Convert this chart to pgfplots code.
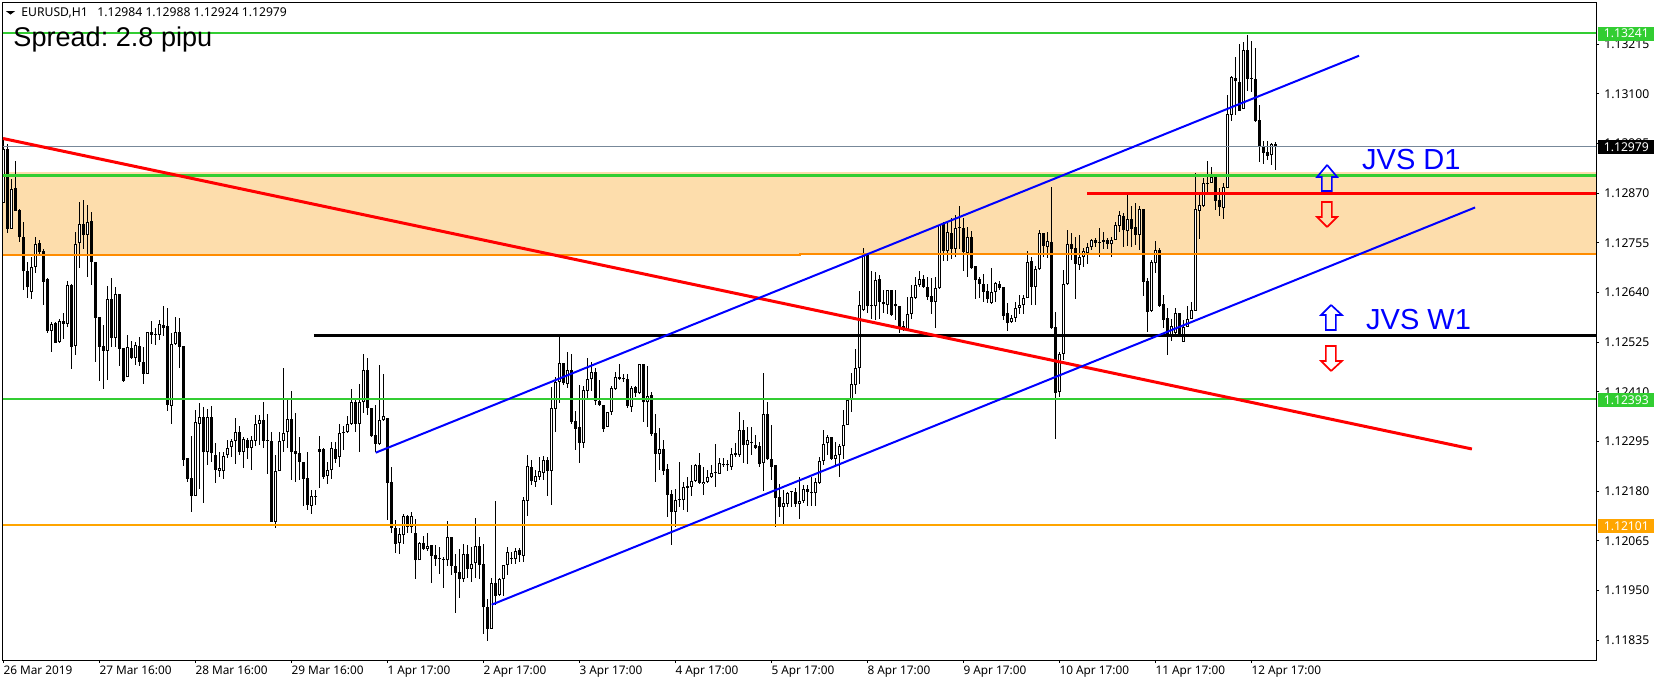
\documentclass[border=0pt]{standalone}
\usepackage{fontspec}
\usepackage{pgfplots}
\usepackage{pgfplotstable}
\pgfplotsset{compat=1.18}
\setmainfont{Noto Sans}
\newfontfamily\arialfont{Liberation Sans}
\definecolor{lime}{RGB}{50,205,50}
\definecolor{zone}{RGB}{253,221,172}
\definecolor{zoneline}{RGB}{255,140,0}
\definecolor{sup}{RGB}{255,165,0}
\definecolor{bidline}{RGB}{119,136,153}

% EURUSD H1: candle number, open, high, low, close
\pgfplotstableread{
i o h l c
0 1.12848 1.12997 1.12848 1.12972
1 1.12972 1.12984 1.12777 1.12788
2 1.12788 1.12902 1.12788 1.12879
3 1.12882 1.12944 1.12830 1.12830
4 1.12831 1.12833 1.12758 1.12768
5 1.12768 1.12804 1.12646 1.12689
6 1.12689 1.12712 1.12628 1.12652
7 1.12642 1.12722 1.12626 1.12700
8 1.12700 1.12770 1.12686 1.12752
9 1.12754 1.12763 1.12729 1.12734
10 1.12737 1.12740 1.12611 1.12665
11 1.12672 1.12673 1.12546 1.12552
12 1.12552 1.12573 1.12503 1.12567
13 1.12569 1.12571 1.12524 1.12524
14 1.12526 1.12578 1.12524 1.12574
15 1.12574 1.12594 1.12533 1.12568
16 1.12568 1.12667 1.12561 1.12657
17 1.12658 1.12659 1.12464 1.12515
18 1.12517 1.12781 1.12496 1.12752
19 1.12754 1.12849 1.12696 1.12798
20 1.12800 1.12855 1.12741 1.12773
21 1.12774 1.12842 1.12677 1.12803
22 1.12805 1.12826 1.12658 1.12712
23 1.12710 1.12710 1.12480 1.12582
24 1.12583 1.12583 1.12436 1.12515
25 1.12516 1.12565 1.12418 1.12506
26 1.12506 1.12655 1.12438 1.12625
27 1.12625 1.12673 1.12515 1.12536
28 1.12536 1.12652 1.12515 1.12636
29 1.12638 1.12638 1.12469 1.12510
30 1.12511 1.12511 1.12432 1.12436
31 1.12444 1.12542 1.12444 1.12513
32 1.12511 1.12528 1.12487 1.12489
33 1.12489 1.12525 1.12472 1.12518
34 1.12516 1.12538 1.12469 1.12480
35 1.12479 1.12515 1.12428 1.12452
36 1.12452 1.12548 1.12452 1.12548
37 1.12548 1.12574 1.12521 1.12543
38 1.12544 1.12557 1.12519 1.12543
39 1.12543 1.12577 1.12530 1.12567
40 1.12564 1.12608 1.12540 1.12559
41 1.12562 1.12604 1.12367 1.12380
42 1.12378 1.12546 1.12336 1.12520
43 1.12520 1.12584 1.12519 1.12548
44 1.12548 1.12581 1.12466 1.12515
45 1.12516 1.12516 1.12239 1.12253
46 1.12256 1.12256 1.12202 1.12209
47 1.12210 1.12307 1.12131 1.12168
48 1.12170 1.12368 1.12170 1.12340
49 1.12337 1.12384 1.12185 1.12351
50 1.12351 1.12376 1.12152 1.12270
51 1.12270 1.12370 1.12242 1.12351
52 1.12351 1.12378 1.12249 1.12268
53 1.12263 1.12293 1.12200 1.12229
54 1.12228 1.12270 1.12212 1.12235
55 1.12226 1.12270 1.12209 1.12262
56 1.12263 1.12299 1.12256 1.12280
57 1.12282 1.12300 1.12259 1.12296
58 1.12296 1.12349 1.12243 1.12318
59 1.12318 1.12332 1.12264 1.12272
60 1.12272 1.12305 1.12235 1.12300
61 1.12299 1.12303 1.12254 1.12281
62 1.12281 1.12308 1.12229 1.12299
63 1.12297 1.12357 1.12285 1.12337
64 1.12337 1.12357 1.12287 1.12344
65 1.12345 1.12386 1.12281 1.12297
66 1.12298 1.12359 1.12219 1.12297
67 1.12297 1.12317 1.12110 1.12110
68 1.12110 1.12264 1.12096 1.12228
69 1.12226 1.12317 1.12226 1.12296
70 1.12296 1.12465 1.12272 1.12314
71 1.12317 1.12391 1.12280 1.12347
72 1.12347 1.12413 1.12206 1.12272
73 1.12273 1.12361 1.12202 1.12266
74 1.12269 1.12305 1.12206 1.12249
75 1.12249 1.12249 1.12147 1.12209
76 1.12210 1.12270 1.12137 1.12148
77 1.12147 1.12183 1.12127 1.12168
78 1.12168 1.12183 1.12148 1.12168
79 1.12272 1.12307 1.12187 1.12277
80 1.12277 1.12280 1.12209 1.12214
81 1.12216 1.12248 1.12197 1.12229
82 1.12229 1.12295 1.12208 1.12280
83 1.12278 1.12295 1.12245 1.12255
84 1.12259 1.12336 1.12237 1.12314
85 1.12317 1.12332 1.12276 1.12314
86 1.12318 1.12354 1.12314 1.12337
87 1.12337 1.12417 1.12333 1.12386
88 1.12386 1.12391 1.12318 1.12337
89 1.12337 1.12428 1.12272 1.12386
90 1.12386 1.12498 1.12361 1.12461
91 1.12461 1.12488 1.12357 1.12374
92 1.12372 1.12372 1.12307 1.12308
93 1.12310 1.12381 1.12270 1.12290
94 1.12289 1.12473 1.12287 1.12345
95 1.12344 1.12452 1.12343 1.12354
96 1.12349 1.12349 1.12114 1.12200
97 1.12201 1.12236 1.12083 1.12094
98 1.12094 1.12114 1.12038 1.12059
99 1.12061 1.12094 1.12035 1.12081
100 1.12078 1.12128 1.12057 1.12122
101 1.12122 1.12125 1.12083 1.12098
102 1.12098 1.12132 1.12083 1.12122
103 1.12083 1.12115 1.11977 1.12020
104 1.12020 1.12063 1.12020 1.12060
105 1.12060 1.12077 1.12043 1.12047
106 1.12047 1.12083 1.12042 1.12054
107 1.12055 1.12055 1.11968 1.12031
108 1.12032 1.12055 1.12007 1.12024
109 1.12026 1.12051 1.11989 1.12023
110 1.12023 1.12029 1.11957 1.12021
111 1.12020 1.12111 1.12008 1.12074
112 1.12074 1.12075 1.11986 1.12008
113 1.12007 1.12034 1.11899 1.11992
114 1.11993 1.12046 1.11932 1.11978
115 1.11978 1.12058 1.11969 1.12036
116 1.12034 1.12056 1.11980 1.12000
117 1.12001 1.12052 1.11969 1.12011
118 1.12013 1.12118 1.11980 1.12053
119 1.12053 1.12075 1.11977 1.12010
120 1.12011 1.12057 1.11850 1.11911
121 1.11911 1.11931 1.11834 1.11862
122 1.11862 1.11979 1.11862 1.11967
123 1.11967 1.12158 1.11917 1.11938
124 1.11940 1.11979 1.11938 1.11976
125 1.11976 1.12010 1.11938 1.12009
126 1.12010 1.12050 1.11987 1.12039
127 1.12025 1.12039 1.12012 1.12023
128 1.12023 1.12048 1.12012 1.12042
129 1.12043 1.12048 1.12017 1.12032
130 1.12030 1.12168 1.12017 1.12161
131 1.12158 1.12264 1.12123 1.12239
132 1.12237 1.12253 1.12195 1.12203
133 1.12202 1.12229 1.12191 1.12215
134 1.12214 1.12260 1.12206 1.12226
135 1.12222 1.12262 1.12206 1.12253
136 1.12253 1.12260 1.12168 1.12228
137 1.12228 1.12422 1.12148 1.12374
138 1.12371 1.12445 1.12318 1.12434
139 1.12434 1.12540 1.12384 1.12476
140 1.12476 1.12476 1.12426 1.12430
141 1.12429 1.12502 1.12420 1.12461
142 1.12461 1.12499 1.12337 1.12341
143 1.12342 1.12367 1.12276 1.12325
144 1.12328 1.12426 1.12246 1.12293
145 1.12293 1.12424 1.12281 1.12415
146 1.12413 1.12488 1.12393 1.12439
147 1.12439 1.12480 1.12413 1.12456
148 1.12456 1.12465 1.12380 1.12388
149 1.12388 1.12438 1.12378 1.12381
150 1.12381 1.12381 1.12317 1.12325
151 1.12330 1.12364 1.12328 1.12363
152 1.12364 1.12424 1.12357 1.12419
153 1.12416 1.12457 1.12415 1.12444
154 1.12444 1.12474 1.12438 1.12441
155 1.12442 1.12452 1.12432 1.12439
156 1.12439 1.12452 1.12374 1.12378
157 1.12376 1.12424 1.12364 1.12420
158 1.12421 1.12424 1.12398 1.12408
159 1.12407 1.12474 1.12405 1.12474
160 1.12474 1.12474 1.12340 1.12386
161 1.12386 1.12469 1.12330 1.12401
162 1.12403 1.12411 1.12307 1.12313
163 1.12314 1.12359 1.12202 1.12267
164 1.12266 1.12326 1.12229 1.12277
165 1.12277 1.12299 1.12218 1.12228
166 1.12231 1.12243 1.12121 1.12172
167 1.12173 1.12183 1.12056 1.12133
168 1.12133 1.12185 1.12098 1.12159
169 1.12159 1.12247 1.12144 1.12159
170 1.12159 1.12202 1.12137 1.12189
171 1.12192 1.12212 1.12131 1.12188
172 1.12191 1.12241 1.12168 1.12205
173 1.12205 1.12243 1.12202 1.12241
174 1.12241 1.12268 1.12197 1.12200
175 1.12197 1.12237 1.12172 1.12202
176 1.12202 1.12229 1.12200 1.12212
177 1.12212 1.12241 1.12210 1.12222
178 1.12222 1.12289 1.12191 1.12222
179 1.12221 1.12258 1.12219 1.12245
180 1.12243 1.12256 1.12237 1.12240
181 1.12240 1.12253 1.12227 1.12240
182 1.12237 1.12280 1.12229 1.12266
183 1.12268 1.12291 1.12260 1.12263
184 1.12263 1.12363 1.12260 1.12322
185 1.12322 1.12344 1.12245 1.12287
186 1.12288 1.12330 1.12243 1.12299
187 1.12293 1.12330 1.12264 1.12293
188 1.12287 1.12310 1.12280 1.12281
189 1.12285 1.12295 1.12237 1.12243
190 1.12245 1.12455 1.12181 1.12358
191 1.12358 1.12386 1.12253 1.12254
192 1.12255 1.12334 1.12206 1.12237
193 1.12241 1.12241 1.12098 1.12165
194 1.12168 1.12196 1.12121 1.12144
195 1.12144 1.12183 1.12104 1.12152
196 1.12151 1.12179 1.12144 1.12177
197 1.12178 1.12181 1.12144 1.12178
198 1.12178 1.12187 1.12143 1.12151
199 1.12151 1.12214 1.12117 1.12158
200 1.12158 1.12195 1.12152 1.12185
201 1.12185 1.12195 1.12146 1.12179
202 1.12179 1.12214 1.12146 1.12175
203 1.12175 1.12210 1.12146 1.12201
204 1.12200 1.12260 1.12198 1.12250
205 1.12250 1.12322 1.12241 1.12289
206 1.12291 1.12310 1.12264 1.12306
207 1.12306 1.12306 1.12254 1.12255
208 1.12255 1.12295 1.12239 1.12263
209 1.12263 1.12289 1.12212 1.12284
210 1.12286 1.12368 1.12254 1.12333
211 1.12334 1.12391 1.12333 1.12391
212 1.12391 1.12453 1.12364 1.12428
213 1.12426 1.12509 1.12405 1.12465
214 1.12465 1.12644 1.12428 1.12611
215 1.12600 1.12743 1.12598 1.12727
216 1.12729 1.12729 1.12592 1.12608
217 1.12611 1.12689 1.12580 1.12608
218 1.12608 1.12687 1.12577 1.12669
219 1.12672 1.12681 1.12578 1.12619
220 1.12618 1.12645 1.12592 1.12613
221 1.12611 1.12646 1.12591 1.12646
222 1.12646 1.12646 1.12587 1.12588
223 1.12614 1.12646 1.12577 1.12608
224 1.12608 1.12608 1.12547 1.12559
225 1.12563 1.12574 1.12552 1.12557
226 1.12553 1.12631 1.12552 1.12591
227 1.12591 1.12658 1.12580 1.12629
228 1.12628 1.12677 1.12626 1.12658
229 1.12658 1.12691 1.12652 1.12671
230 1.12672 1.12681 1.12650 1.12654
231 1.12653 1.12677 1.12623 1.12631
232 1.12632 1.12675 1.12591 1.12619
233 1.12618 1.12677 1.12559 1.12650
234 1.12650 1.12800 1.12648 1.12797
235 1.12798 1.12804 1.12713 1.12736
236 1.12736 1.12804 1.12713 1.12781
237 1.12779 1.12812 1.12719 1.12742
238 1.12742 1.12820 1.12723 1.12789
239 1.12791 1.12841 1.12741 1.12789
240 1.12789 1.12812 1.12691 1.12733
241 1.12731 1.12793 1.12677 1.12768
242 1.12768 1.12783 1.12696 1.12698
243 1.12702 1.12702 1.12625 1.12669
244 1.12671 1.12677 1.12627 1.12661
245 1.12661 1.12683 1.12619 1.12642
246 1.12644 1.12661 1.12615 1.12626
247 1.12617 1.12696 1.12614 1.12641
248 1.12641 1.12665 1.12619 1.12663
249 1.12661 1.12668 1.12646 1.12651
250 1.12653 1.12653 1.12577 1.12587
251 1.12592 1.12615 1.12552 1.12570
252 1.12572 1.12588 1.12569 1.12582
253 1.12582 1.12619 1.12573 1.12604
254 1.12605 1.12634 1.12591 1.12611
255 1.12611 1.12634 1.12591 1.12627
256 1.12627 1.12736 1.12627 1.12712
257 1.12713 1.12723 1.12611 1.12654
258 1.12654 1.12702 1.12611 1.12695
259 1.12694 1.12784 1.12692 1.12777
260 1.12777 1.12777 1.12722 1.12749
261 1.12746 1.12781 1.12721 1.12759
262 1.12757 1.12884 1.12557 1.12559
263 1.12560 1.12596 1.12300 1.12408
264 1.12411 1.12503 1.12399 1.12499
265 1.12499 1.12692 1.12484 1.12659
266 1.12660 1.12784 1.12658 1.12752
267 1.12752 1.12777 1.12716 1.12741
268 1.12743 1.12768 1.12625 1.12706
269 1.12705 1.12773 1.12692 1.12722
270 1.12722 1.12743 1.12700 1.12737
271 1.12731 1.12754 1.12706 1.12745
272 1.12745 1.12765 1.12739 1.12762
273 1.12762 1.12766 1.12745 1.12754
274 1.12756 1.12790 1.12723 1.12756
275 1.12761 1.12781 1.12740 1.12757
276 1.12762 1.12766 1.12740 1.12753
277 1.12752 1.12768 1.12723 1.12763
278 1.12762 1.12804 1.12762 1.12797
279 1.12795 1.12829 1.12781 1.12819
280 1.12818 1.12825 1.12745 1.12784
281 1.12782 1.12868 1.12748 1.12811
282 1.12810 1.12841 1.12746 1.12787
283 1.12791 1.12847 1.12750 1.12774
284 1.12774 1.12841 1.12739 1.12834
285 1.12834 1.12834 1.12633 1.12665
286 1.12667 1.12673 1.12550 1.12596
287 1.12598 1.12716 1.12596 1.12710
288 1.12708 1.12760 1.12685 1.12739
289 1.12739 1.12743 1.12607 1.12610
290 1.12613 1.12634 1.12557 1.12577
291 1.12581 1.12604 1.12496 1.12542
292 1.12542 1.12580 1.12528 1.12563
293 1.12546 1.12604 1.12542 1.12592
294 1.12592 1.12592 1.12540 1.12542
295 1.12526 1.12577 1.12526 1.12560
296 1.12561 1.12609 1.12561 1.12580
297 1.12579 1.12619 1.12578 1.12600
298 1.12598 1.12916 1.12598 1.12833
299 1.12830 1.12872 1.12764 1.12843
300 1.12841 1.12905 1.12839 1.12893
301 1.12895 1.12945 1.12865 1.12892
302 1.12895 1.12930 1.12893 1.12907
303 1.12909 1.12915 1.12831 1.12853
304 1.12854 1.12882 1.12818 1.12838
305 1.12835 1.12893 1.12811 1.12884
306 1.12883 1.13098 1.12883 1.13053
307 1.13051 1.13142 1.13038 1.13139
308 1.13136 1.13185 1.13051 1.13129
309 1.13128 1.13215 1.13061 1.13061
310 1.13066 1.13221 1.13066 1.13201
311 1.13201 1.13237 1.13108 1.13135
312 1.13135 1.13223 1.13105 1.13135
313 1.13135 1.13206 1.13036 1.13038
314 1.13040 1.13075 1.12943 1.12980
315 1.12980 1.12990 1.12938 1.12964
316 1.12966 1.12990 1.12947 1.12957
317 1.12958 1.12987 1.12936 1.12984
318 1.12984 1.12988 1.12924 1.12979
}\candles

\begin{document}
\frenchspacing
\begin{tikzpicture}
\path[use as bounding box] (0,0) rectangle (996pt,410.4pt);
\begin{axis}[
    at={(1.5pt,14.4pt)}, anchor=south west,
    scale only axis, width=956.1pt, height=394.5pt,
    xmin=-0.25, xmax=398.125,
    ymin=1.117894, ymax=1.133118,
    axis line style={line width=0.6pt},
    tick align=outside,
    major tick length=1.8pt,
    tick style={line width=0.6pt,black},
    xtick pos=bottom, ytick pos=right,
    xtick={0,24,...,312},
    xticklabels={26 Mar 2019,27 Mar 16:00,28 Mar 16:00,29 Mar 16:00,1 Apr 17:00,2 Apr 17:00,3 Apr 17:00,4 Apr 17:00,5 Apr 17:00,8 Apr 17:00,9 Apr 17:00,10 Apr 17:00,11 Apr 17:00,12 Apr 17:00},
    xticklabel style={anchor=north west, xshift=-1.2pt, yshift=-0.6pt, font=\fontsize{7.1}{8}\selectfont, inner sep=1pt},
    ytick={1.11835,1.1195,1.12065,1.1218,1.12295,1.1241,1.12525,1.1264,1.12755,1.1287,1.12985,1.131,1.13215},
    yticklabel pos=right,
    scaled y ticks=false,
    yticklabel style={anchor=west, xshift=2pt, font=\fontsize{7.3}{8}\selectfont, inner sep=1pt,
        /pgf/number format/.cd, fixed, fixed zerofill, precision=5, assume math mode=true},
    unbounded coords=discard,
]
% supply zone
\addplot[draw=none, fill=zone] coordinates {(-0.25,1.129193)(398.125,1.129193)(398.125,1.12728)(-0.25,1.12728)};
% wicks
\addplot[draw=none, mark=none, error bars/.cd, y dir=both, y explicit, error mark=none,
    error bar style={line width=0.6pt,draw=black,solid}]
    table[x=i, y=c, y error plus expr=\thisrow{h}-\thisrow{c}, y error minus expr=\thisrow{c}-\thisrow{l}] {\candles};
% bodies, black outer
\addplot[draw=none, mark=none, error bars/.cd, y dir=plus, y explicit, error mark=none,
    error bar style={line width=1.8pt,draw=black,solid}]
    table[x=i, y expr={min(\thisrow{o},\thisrow{c})}, y error plus expr={max(abs(\thisrow{c}-\thisrow{o}),0.000023)}] {\candles};
% white inside of rising candles
\addplot[draw=none, mark=none, error bars/.cd, y dir=plus, y explicit, error mark=none,
    error bar style={line width=0.6pt,draw=white,solid}]
    table[x=i, y expr={\thisrow{c}>\thisrow{o}+0.000046 ? \thisrow{o}+0.000023 : nan},
          y error plus expr={\thisrow{c}-\thisrow{o}-0.000046}] {\candles};
% horizontal levels
\addplot[bidline, line width=0.6pt] coordinates {(-0.25,1.12979)(398.125,1.12979)};
\addplot[lime, line width=1.2pt] coordinates {(-0.25,1.13241)(398.125,1.13241)};
\addplot[lime, line width=1.8pt] coordinates {(-0.25,1.129117)(398.125,1.129117)};
\addplot[lime, line width=1.2pt] coordinates {(-0.25,1.12393)(398.125,1.12393)};
\addplot[sup, line width=1.2pt] coordinates {(-0.25,1.12101)(398.125,1.12101)};
\addplot[zoneline, line width=1.2pt] coordinates {(-0.25,1.12727)(199,1.12727)(199,1.12729)(398.125,1.12729)};
\addplot[black, line width=1.8pt] coordinates {(77.6,1.12541)(398.125,1.12541)};
\addplot[red, line width=1.8pt] coordinates {(270.9,1.1287)(398.125,1.1287)};
% trend lines
\addplot[red, line width=1.8pt] coordinates {(-0.125,1.129969)(367.1,1.12278)};
\addplot[blue, line width=1.2pt] coordinates {(93.05,1.122694)(338.9,1.131886)};
\addplot[blue, line width=1.2pt] coordinates {(122.05,1.119175)(367.9,1.128372)};
% arrows
\addplot[blue, line width=1pt, miter limit=6] coordinates {(330.9,1.129356)(333.4,1.129078)(332.1,1.129078)(332.1,1.128754)(329.6,1.128754)(329.6,1.129078)(328.4,1.129078)(330.9,1.129356)};
\addplot[red, line width=1pt, miter limit=6] coordinates {(330.9,1.12792)(333.4,1.128152)(332.1,1.128152)(332.1,1.128499)(329.6,1.128499)(329.6,1.128152)(328.4,1.128152)(330.9,1.12792)};
\addplot[blue, line width=1pt, miter limit=6] coordinates {(331.9,1.126114)(334.6,1.125882)(333.1,1.125882)(333.1,1.125535)(330.6,1.125535)(330.6,1.125882)(329.4,1.125882)(331.9,1.126114)};
\addplot[red, line width=1pt, miter limit=6] coordinates {(331.9,1.124586)(334.6,1.124817)(333.1,1.124817)(333.1,1.125164)(330.6,1.125164)(330.6,1.124817)(329.4,1.124817)(331.9,1.124586)};
% header triangle
\addplot[draw=none, fill=black] coordinates {(0.6,1.13292)(2.9,1.13292)(1.75,1.13284)};
\node[anchor=base west, inner sep=0pt, font=\fontsize{7.3}{8}\selectfont] at (axis cs:4.4,1.132794) {EURUSD,H1\ \ \ 1.12984 1.12988 1.12924 1.12979};
\node[anchor=base west, inner sep=0pt, font=\arialfont\fontsize{16.26}{18}\selectfont] at (axis cs:2.4,1.132088) {Spread: 2.8 pipu};
\node[anchor=base west, inner sep=0pt, text=blue, font=\arialfont\fontsize{17.4}{20}\selectfont] at (axis cs:339.6,1.12924) {JVS D1};
\node[anchor=base west, inner sep=0pt, text=blue, font=\arialfont\fontsize{17.4}{20}\selectfont] at (axis cs:340.6,1.125558) {JVS W1};
\coordinate (lbA) at (axis cs:398.125,1.13241);
\coordinate (lbB) at (axis cs:398.125,1.12979);
\coordinate (lbC) at (axis cs:398.125,1.12393);
\coordinate (lbD) at (axis cs:398.125,1.12101);
\end{axis}
\tikzset{pricebox/.style={anchor=west, xshift=1.2pt, yshift=-0.3pt, minimum width=33.6pt, minimum height=8.4pt, inner sep=0pt, text=white, font=\fontsize{7.3}{8}\selectfont}}
\node[pricebox, fill=lime] at (lbA) {1.13241};
\node[pricebox, fill=black] at (lbB) {1.12979};
\node[pricebox, fill=lime] at (lbC) {1.12393};
\node[pricebox, fill=sup] at (lbD) {1.12101};
\end{tikzpicture}
\end{document}
